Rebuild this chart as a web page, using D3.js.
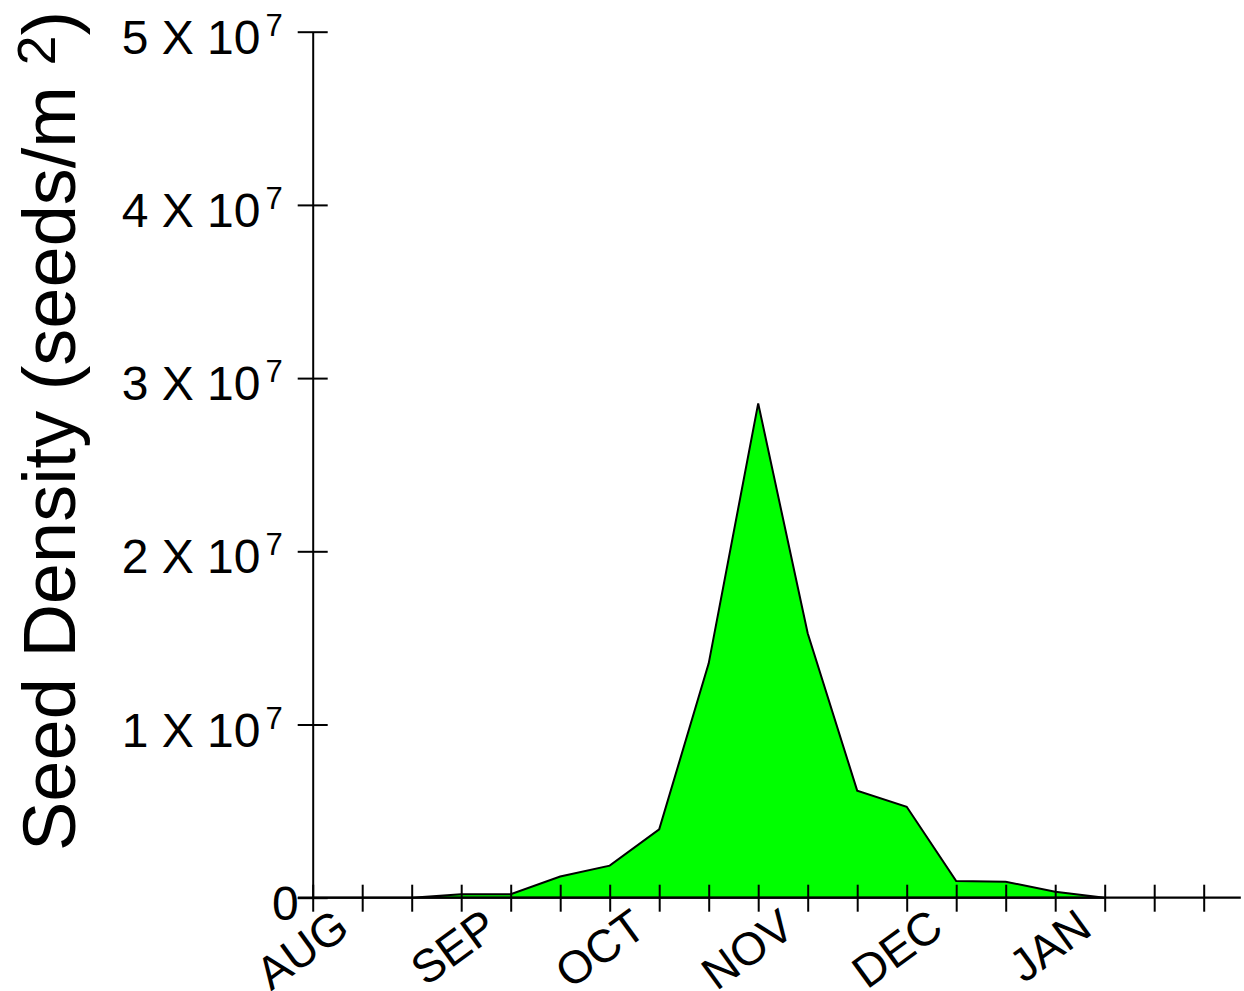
<!DOCTYPE html>
<html>
<head>
<meta charset="utf-8">
<script src="https://cdn.jsdelivr.net/npm/d3@7"></script>
<style>
  html, body { margin: 0; padding: 0; background: #ffffff; }
  svg { display: block; font-family: "Liberation Sans", Arial, sans-serif; }
</style>
</head>
<body>
<svg id="chart" width="1244" height="991"></svg>
<script>
// ---- data ----
const periodIndex = [0, 1, 2, 3, 4, 5, 6, 7, 8, 9, 10, 11, 12, 13, 14, 15, 16];
const seedDensity = [0, 0, 0, 2.0e5, 2.0e5, 1.22e6, 1.85e6, 3.95e6, 1.353e7, 2.854e7, 1.527e7, 6.18e6, 5.25e6, 9.6e5, 9.2e5, 3.5e5, 0];
const monthLabels = ["AUG", "SEP", "OCT", "NOV", "DEC", "JAN"];
const monthTickIndex = [0, 3, 6, 9, 12, 15];
const xTickValues = [0, 1, 2, 3, 4, 5, 6, 7, 8, 9, 10, 11, 12, 13, 14, 15, 16, 17, 18];
const yTickValues = [0, 1e7, 2e7, 3e7, 4e7, 5e7];
const yTickMantissa = ["0", "1 X 10", "2 X 10", "3 X 10", "4 X 10", "5 X 10"];
const yTickExponent = ["", "7", "7", "7", "7", "7"];
const yTitleMain = "Seed Density (seeds/m ";
const yTitleSup = "2";
const yTitleEnd = ")";

// ---- layout ----
const svg = d3.select("#chart");
const x = d3.scaleLinear().domain([0, 18]).range([312.7, 1203.7]);
const y = d3.scaleLinear().domain([0, 5e7]).range([897.7, 31.7]);

// area
const area = d3.area()
  .x((d, i) => x(periodIndex[i]))
  .y0(y(0))
  .y1(d => y(d));

svg.append("path")
  .datum(seedDensity)
  .attr("d", area)
  .attr("fill", "#00ff00")
  .attr("stroke", "#000")
  .attr("stroke-width", 2)
  .attr("stroke-linejoin", "miter");

// x axis
const xAxisG = svg.append("g").attr("transform", `translate(0,${y(0)})`);
xAxisG.call(d3.axisBottom(x).tickValues(xTickValues).tickSize(14).tickSizeOuter(0).tickFormat(""));
xAxisG.select(".domain").remove();
xAxisG.selectAll(".tick line").attr("y1", -13).attr("stroke", "#000").attr("stroke-width", 2);
xAxisG.append("line")
  .attr("x1", x(-0.3)).attr("x2", x(18.75))
  .attr("y1", 0).attr("y2", 0)
  .attr("stroke", "#000").attr("stroke-width", 2.2);

// y axis
const yAxisG = svg.append("g").attr("transform", `translate(${x(0)},0)`);
yAxisG.call(d3.axisLeft(y).tickValues(yTickValues).tickSize(15).tickSizeOuter(0).tickFormat(""));
yAxisG.select(".domain").attr("stroke", "#000").attr("stroke-width", 2);
yAxisG.selectAll(".tick line").attr("x1", 15).attr("stroke", "#000").attr("stroke-width", 2);

// y tick labels
const yLab = svg.append("g");
yTickValues.forEach((v, i) => {
  const t = yLab.append("text")
    .attr("x", yTickExponent[i] ? x(0) - 30 : x(0) - 14)
    .attr("y", y(v) + 22)
    .attr("text-anchor", "end")
    .attr("font-size", 48)
    .attr("fill", "#000");
  t.append("tspan").text(yTickMantissa[i]);
  if (yTickExponent[i]) {
    t.append("tspan").attr("font-size", 31).attr("dx", 5).attr("dy", -18).text(yTickExponent[i]);
  }
});

// x month labels
const xLab = svg.append("g");
monthLabels.forEach((m, i) => {
  const px = x(monthTickIndex[i]) + 39, py = 933;
  xLab.append("text")
    .attr("transform", `translate(${px},${py}) rotate(-36)`)
    .attr("text-anchor", "end")
    .attr("font-size", 46)
    .attr("fill", "#000")
    .text(m);
});

// y title
const title = svg.append("text")
  .attr("transform", "translate(75,851) rotate(-90)")
  .attr("text-anchor", "start")
  .attr("font-size", 74)
  .attr("fill", "#000");
title.append("tspan").text(yTitleMain);
title.append("tspan").attr("font-size", 54).attr("dy", -20).text(yTitleSup);
title.append("tspan").attr("dy", 20).text(yTitleEnd);
</script>
</body>
</html>
